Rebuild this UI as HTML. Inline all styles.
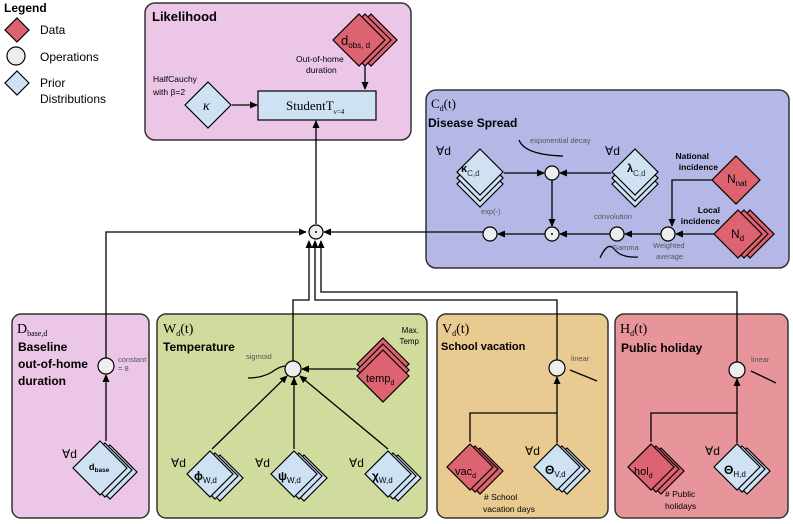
<!DOCTYPE html>
<html><head><meta charset="utf-8"><style>
html,body{margin:0;padding:0;background:#fff}
svg{display:block}
text{font-family:"Liberation Sans",sans-serif}
.b{font-weight:bold}
.s{font-family:"Liberation Serif",serif}
.sm{font-size:7.5px;fill:#555}
</style></head><body>
<svg width="793" height="524" viewBox="0 0 793 524" xmlns="http://www.w3.org/2000/svg">
<defs>
<marker id="a" markerWidth="8" markerHeight="8" refX="7" refY="4" orient="auto" markerUnits="userSpaceOnUse"><path d="M0,0.5 L8,4 L0,7.5z" fill="#000"/></marker>
</defs>
<g stroke="#333" stroke-width="1.5">
<rect x="145" y="3" width="266" height="137" rx="10" fill="#ebc6e6"/>
<rect x="426" y="90" width="363" height="178" rx="10" fill="#b5b8e6"/>
<rect x="12" y="314" width="137" height="204" rx="9" fill="#ebc6e6"/>
<rect x="157" y="314" width="270" height="204" rx="9" fill="#d0dc9e"/>
<rect x="437" y="314" width="171" height="204" rx="9" fill="#e9ca90"/>
<rect x="615" y="314" width="173" height="204" rx="9" fill="#e7949b"/>
</g>
<!-- legend -->
<text x="4" y="12" class="b" font-size="12">Legend</text>
<polygon points="17,18 29,30 17,42 5,30" fill="#dd6370" stroke="#000" stroke-width="1.2"/>
<text x="40" y="34" font-size="12">Data</text>
<circle cx="16" cy="56" r="9" fill="#eee" stroke="#000" stroke-width="1.2"/>
<text x="40" y="61" font-size="12">Operations</text>
<polygon points="17,71 29,83 17,95 5,83" fill="#cfe2f3" stroke="#000" stroke-width="1.2"/>
<text x="40" y="87" font-size="12">Prior</text>
<text x="40" y="103" font-size="12">Distributions</text>

<g stroke="#000" stroke-width="1.3" fill="none">
<line x1="365" y1="64" x2="365" y2="89" marker-end="url(#a)"/>
<line x1="232" y1="105" x2="257" y2="105" marker-end="url(#a)"/>
<line x1="316" y1="224" x2="316" y2="121" marker-end="url(#a)"/>
<polyline points="106,358 106,232 306,232" marker-end="url(#a)"/>
<line x1="483" y1="232" x2="324" y2="232" marker-end="url(#a)"/>
<polyline points="293,361 293,300 309,300 309,241" marker-end="url(#a)"/>
<polyline points="557,360 557,300 315,300 315,241" marker-end="url(#a)"/>
<polyline points="737,362 737,292 321,292 321,241" marker-end="url(#a)"/>
<line x1="504" y1="173" x2="544" y2="173" marker-end="url(#a)"/>
<line x1="611" y1="173" x2="560" y2="173" marker-end="url(#a)"/>
<line x1="552" y1="180" x2="552" y2="226" marker-end="url(#a)"/>
<line x1="545" y1="234" x2="498" y2="234" marker-end="url(#a)"/>
<line x1="610" y1="234" x2="560" y2="234" marker-end="url(#a)"/>
<line x1="661" y1="234" x2="625" y2="234" marker-end="url(#a)"/>
<line x1="714" y1="234" x2="676" y2="234" marker-end="url(#a)"/>
<polyline points="712,180 672,180 672,226" marker-end="url(#a)"/>
<line x1="106" y1="441" x2="106" y2="375" marker-end="url(#a)"/>
<line x1="356" y1="369" x2="302" y2="369" marker-end="url(#a)"/>
<line x1="212" y1="449" x2="287" y2="376" marker-end="url(#a)"/>
<line x1="294" y1="449" x2="294" y2="378" marker-end="url(#a)"/>
<line x1="388" y1="449" x2="300" y2="376" marker-end="url(#a)"/>
<polyline points="470,442 470,413 557,413"/>
<line x1="557" y1="443" x2="557" y2="377" marker-end="url(#a)"/>
<polyline points="651,442 651,413 737,413"/>
<line x1="737" y1="443" x2="737" y2="379" marker-end="url(#a)"/>
<path d="M519,140 Q525,155 563,156"/>
<path d="M600,258 Q608,240 615,250 Q622,258 638,257"/>
<path d="M248,378 Q262,378 272,372 Q280,366 286,366"/>
<line x1="570" y1="370" x2="597" y2="381"/>
<line x1="751" y1="371" x2="776" y2="383"/>
</g>

<text x="152" y="21" class="b" font-size="13">Likelihood</text>
<g stroke="#000" stroke-width="1.2" fill="#dd6370">
<polygon points="371,14 397,40 371,66 345,40"/>
<polygon points="365,14 391,40 365,66 339,40"/>
<polygon points="359,14 385,40 359,66 333,40"/>
</g>
<text x="341" y="45" font-size="13">d<tspan font-size="8" dy="3">obs, d</tspan></text>
<text x="296" y="62" font-size="8.5">Out-of-home</text>
<text x="306" y="73" font-size="8.5">duration</text>
<rect x="258" y="91" width="118" height="29" fill="#cfe2f3" stroke="#000" stroke-width="1.2"/>
<text x="286" y="110" class="s" font-size="13">StudentT<tspan font-size="7" dy="4">ν=4</tspan></text>
<polygon points="208,82 231,105 208,128 185,105" fill="#cfe2f3" stroke="#000" stroke-width="1.2"/>
<text x="203" y="110" class="s" font-size="14" font-style="italic">κ</text>
<text x="153" y="82" font-size="8.5">HalfCauchy</text>
<text x="153" y="95" font-size="8.5">with β=2</text>

<text x="431" y="108" class="s" font-size="13">C<tspan font-size="8" dy="3">d</tspan><tspan dy="-3">(t)</tspan></text>
<text x="428" y="127" class="b" font-size="12">Disease Spread</text>
<text x="530" y="143" class="sm">exponential decay</text>
<text x="436" y="155" font-size="12">∀d</text>
<text x="605" y="155" font-size="12">∀d</text>
<g stroke="#000" stroke-width="1.2" fill="#cfe2f3">
<polygon points="480,161 503,184 480,207 457,184"/>
<polygon points="480,155 503,178 480,201 457,178"/>
<polygon points="480,149 503,172 480,195 457,172"/>
<polygon points="635,161 658,184 635,207 612,184"/>
<polygon points="635,155 658,178 635,201 612,178"/>
<polygon points="635,149 658,172 635,195 612,172"/>
</g>
<text x="461" y="172" class="b" font-size="11">κ<tspan font-weight="normal" font-size="8" dy="4" fill="#333">C,d</tspan></text>
<text x="627" y="172" class="b" font-size="11">λ<tspan font-weight="normal" font-size="8" dy="4" fill="#333">C,d</tspan></text>
<text x="709" y="159" class="b" font-size="8.5" text-anchor="end">National</text>
<text x="718" y="170" class="b" font-size="8.5" text-anchor="end">incidence</text>
<text x="720" y="213" class="b" font-size="8.5" text-anchor="end">Local</text>
<text x="720" y="224" class="b" font-size="8.5" text-anchor="end">incidence</text>
<polygon points="736,156 760,180 736,204 712,180" fill="#dd6370" stroke="#000" stroke-width="1.2"/>
<text x="727" y="183" font-size="12">N<tspan font-size="8" dy="3">nat</tspan></text>
<g stroke="#000" stroke-width="1.2" fill="#dd6370">
<polygon points="750,210 774,234 750,258 726,234"/>
<polygon points="744,210 768,234 744,258 720,234"/>
<polygon points="738,210 762,234 738,258 714,234"/>
</g>
<text x="731" y="238" font-size="12">N<tspan font-size="8" dy="3">d</tspan></text>
<text x="481" y="214" class="sm">exp(-)</text>
<text x="594" y="219" class="sm">convolution</text>
<text x="612" y="250" class="sm">Gamma</text>
<text x="653" y="248" class="sm">Weighted</text>
<text x="656" y="259" class="sm">average</text>
<g stroke="#000" stroke-width="1.2" fill="#eee">
<circle cx="552" cy="173" r="7"/>
<circle cx="552" cy="234" r="7"/>
<circle cx="490" cy="234" r="7"/>
<circle cx="617" cy="234" r="7"/>
<circle cx="668" cy="234" r="7"/>
<circle cx="316" cy="232" r="7"/>
<circle cx="106" cy="366" r="8"/>
<circle cx="293" cy="369" r="8"/>
<circle cx="557" cy="368" r="8"/>
<circle cx="737" cy="370" r="8"/>
</g>
<circle cx="552" cy="234" r="1" fill="#000"/>
<circle cx="316" cy="232" r="1" fill="#000"/>

<text x="17" y="333" class="s" font-size="14">D<tspan font-size="8" dy="3">base,d</tspan></text>
<text x="18" y="351" class="b" font-size="12">Baseline</text>
<text x="18" y="368" class="b" font-size="12">out-of-home</text>
<text x="18" y="385" class="b" font-size="12">duration</text>
<text x="118" y="362" class="sm" font-size="6.5">constant</text>
<text x="118" y="371" class="sm" font-size="6.5">= 8</text>
<text x="62" y="458" font-size="12">∀d</text>
<g stroke="#000" stroke-width="1.2" fill="#cfe2f3">
<polygon points="110,445 137,472 110,499 83,472"/>
<polygon points="105,443 132,470 105,497 78,470"/>
<polygon points="100,441 127,468 100,495 73,468"/>
</g>
<text x="89" y="470" class="b" font-size="9">d<tspan font-size="6.5" dy="2">base</tspan></text>

<text x="163" y="333" class="s" font-size="14">W<tspan font-size="8" dy="3">d</tspan><tspan dy="-3">(t)</tspan></text>
<text x="163" y="351" class="b" font-size="12">Temperature</text>
<text x="246" y="359" class="sm" font-size="6.5">sigmoid</text>
<text x="419" y="333" font-size="8" text-anchor="end">Max.</text>
<text x="419" y="344" font-size="8" text-anchor="end">Temp</text>
<g stroke="#000" stroke-width="1.2" fill="#dd6370">
<polygon points="383,338 409,364 383,390 357,364"/>
<polygon points="383,344 409,370 383,396 357,370"/>
<polygon points="383,350 409,376 383,402 357,376"/>
</g>
<text x="366" y="382" font-size="11">temp<tspan font-size="7" dy="3">d</tspan></text>
<g stroke="#000" stroke-width="1.2" fill="#cfe2f3">
<polygon points="220,455 243,478 220,501 197,478"/>
<polygon points="215,453 238,476 215,499 192,476"/>
<polygon points="210,451 233,474 210,497 187,474"/>
<polygon points="304,455 327,478 304,501 281,478"/>
<polygon points="299,453 322,476 299,499 276,476"/>
<polygon points="294,451 317,474 294,497 271,474"/>
<polygon points="398,455 421,478 398,501 375,478"/>
<polygon points="393,453 416,476 393,499 370,476"/>
<polygon points="388,451 411,474 388,497 365,474"/>
</g>
<text x="171" y="467" font-size="12">∀d</text>
<text x="255" y="467" font-size="12">∀d</text>
<text x="349" y="467" font-size="12">∀d</text>
<text x="194" y="480" class="b" font-size="12">ϕ<tspan font-weight="normal" font-size="8" dy="3">W,d</tspan></text>
<text x="278" y="480" class="b" font-size="12">ψ<tspan font-weight="normal" font-size="8" dy="3">W,d</tspan></text>
<text x="372" y="480" class="b" font-size="12">χ<tspan font-weight="normal" font-size="8" dy="3">W,d</tspan></text>

<text x="442" y="333" class="s" font-size="14">V<tspan font-size="8" dy="3">d</tspan><tspan dy="-3">(t)</tspan></text>
<text x="441" y="350" class="b" font-size="11">School vacation</text>
<text x="571" y="361" class="sm">linear</text>
<g stroke="#000" stroke-width="1.2" fill="#dd6370">
<polygon points="480,448 503,471 480,494 457,471"/>
<polygon points="475,446 498,469 475,492 452,469"/>
<polygon points="470,444 493,467 470,490 447,467"/>
</g>
<text x="455" y="475" font-size="11">vac<tspan font-size="7" dy="3">d</tspan></text>
<text x="525" y="455" font-size="12">∀d</text>
<g stroke="#000" stroke-width="1.2" fill="#cfe2f3">
<polygon points="567,448 590,471 567,494 544,471"/>
<polygon points="562,446 585,469 562,492 539,469"/>
<polygon points="557,444 580,467 557,490 534,467"/>
</g>
<text x="545" y="474" class="b" font-size="12">Θ<tspan font-weight="normal" font-size="8" dy="3">V,d</tspan></text>
<text x="484" y="500" font-size="8.5"># School</text>
<text x="483" y="512" font-size="8.5">vacation days</text>

<text x="620" y="333" class="s" font-size="14">H<tspan font-size="8" dy="3">d</tspan><tspan dy="-3">(t)</tspan></text>
<text x="621" y="352" class="b" font-size="12">Public holiday</text>
<text x="751" y="362" class="sm">linear</text>
<g stroke="#000" stroke-width="1.2" fill="#dd6370">
<polygon points="661,448 684,471 661,494 638,471"/>
<polygon points="656,446 679,469 656,492 633,469"/>
<polygon points="651,444 674,467 651,490 628,467"/>
</g>
<text x="634" y="475" font-size="11">hol<tspan font-size="7" dy="3">d</tspan></text>
<text x="705" y="455" font-size="12">∀d</text>
<g stroke="#000" stroke-width="1.2" fill="#cfe2f3">
<polygon points="747,448 770,471 747,494 724,471"/>
<polygon points="742,446 765,469 742,492 719,469"/>
<polygon points="737,444 760,467 737,490 714,467"/>
</g>
<text x="724" y="474" class="b" font-size="12">Θ<tspan font-weight="normal" font-size="8" dy="3">H,d</tspan></text>
<text x="665" y="497" font-size="8.5"># Public</text>
<text x="665" y="509" font-size="8.5">holidays</text>
</svg>
</body></html>
